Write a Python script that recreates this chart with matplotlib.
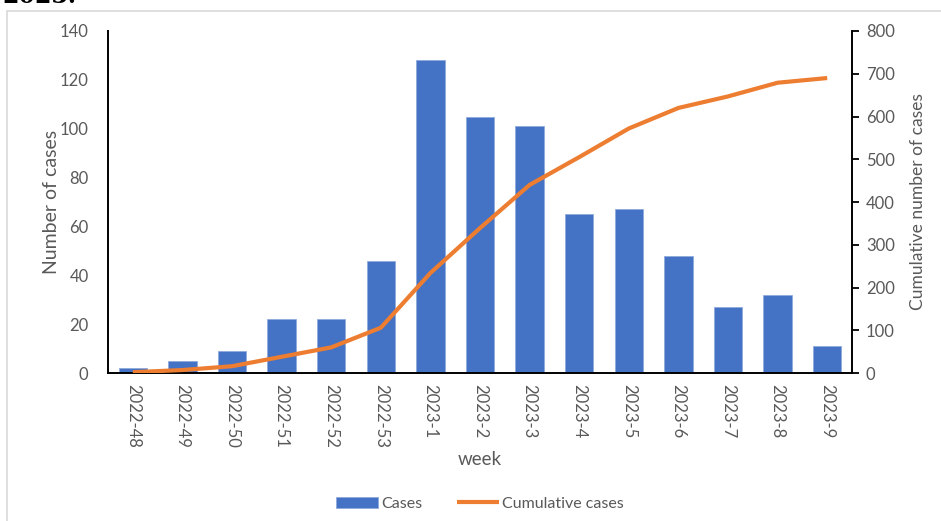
import matplotlib.pyplot as plt
from matplotlib.patches import Rectangle

plt.rcParams['font.family'] = ['Lato', 'DejaVu Sans']

# weekly data
weeks = ['2022-48', '2022-49', '2022-50', '2022-51', '2022-52', '2022-53',
         '2023-1', '2023-2', '2023-3', '2023-4', '2023-5', '2023-6',
         '2023-7', '2023-8', '2023-9']
cases = [2, 5, 9, 22, 22, 46, 128, 105, 101, 65, 67, 48, 27, 32, 11]
cumulative = [2, 7, 16, 38, 60, 106, 234, 339, 440, 505, 572, 620, 647, 679, 690]

grey = '#595959'
fig = plt.figure(figsize=(9.41, 5.21), dpi=100)
ax = fig.add_axes([0.1148, 0.284, 0.7906, 0.6565])
ax2 = ax.twinx()

x = list(range(len(weeks)))
bars = ax.bar(x, cases, width=0.57, color='#4472C4', edgecolor='#8FAADC',
              linewidth=0.6, label='Cases', zorder=2)
line, = ax2.plot(x, cumulative, color='#ED7D31', linewidth=3,
                 label='Cumulative cases', solid_capstyle='butt')

ax.set_xlim(-0.5, len(weeks) - 0.5)
ax.set_ylim(0, 140)
ax.set_yticks(range(0, 141, 20))
ax2.set_ylim(0, 800)
ax2.set_yticks(range(0, 801, 100))

ax.set_xticks(x)
ax.set_xticklabels(weeks, rotation=-90, color=grey, fontsize=12)
ax.tick_params(axis='x', length=0, pad=8)
ax.tick_params(axis='y', length=0, pad=14, colors=grey, labelsize=12)
ax2.tick_params(axis='y', length=5, width=1.3, pad=5, colors='black',
                labelcolor=grey, labelsize=12)

for a in (ax, ax2):
    for s in ('top', 'left', 'right', 'bottom'):
        a.spines[s].set_visible(False)
ax.spines['left'].set_visible(True)
ax.spines['bottom'].set_visible(True)
ax2.spines['right'].set_visible(True)
for sp in (ax.spines['left'], ax.spines['bottom'], ax2.spines['right']):
    sp.set_linewidth(1.4)
    sp.set_color('black')

ax.set_ylabel('Number of cases', color=grey, fontsize=14, labelpad=0)
ax2.set_ylabel('Cumulative number of cases', color=grey, fontsize=12.5, labelpad=11)
ax.set_xlabel('week', color=grey, fontsize=13.5, labelpad=2)

fig.legend([bars, line], ['Cases', 'Cumulative cases'], loc='center',
           bbox_to_anchor=(0.51, 0.033), ncol=2, frameon=False,
           fontsize=11.5, labelcolor=grey, handlelength=2.6, columnspacing=2.2,
           handletextpad=0.2)

# outer chart border and clipped caption text above it
fig.patches.append(Rectangle((7 / 941, -0.05), 1.0, 1 - 11 / 521 + 0.05,
                             transform=fig.transFigure, fill=False,
                             edgecolor='#D9D9D9', linewidth=1.2))
fig.text(0.002, 1 - 8 / 521, '2023.', family='DejaVu Serif', weight='bold',
         fontsize=17, va='bottom', ha='left')

fig.savefig('out.png', dpi=100)
